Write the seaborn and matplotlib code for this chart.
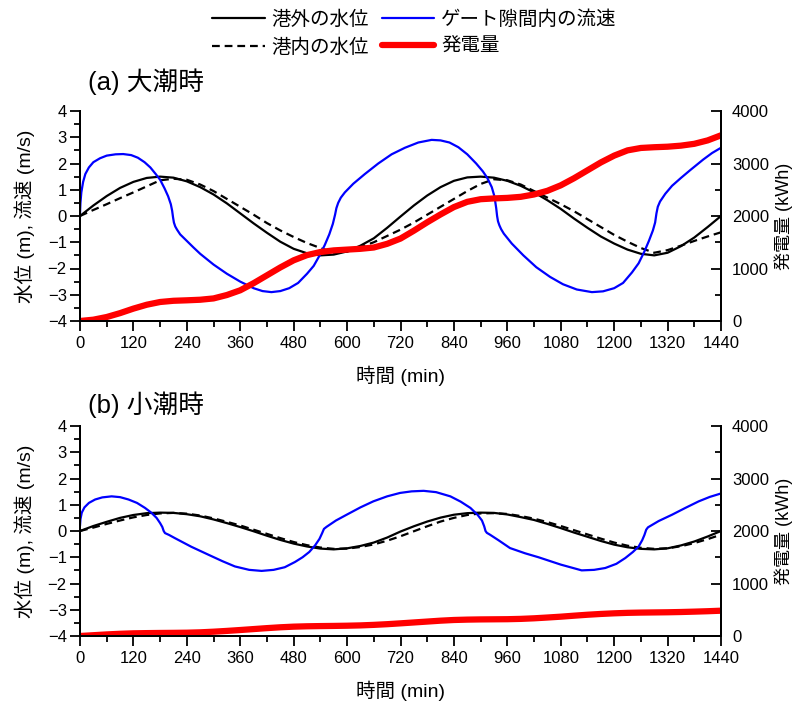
import numpy as np
import pandas as pd
import matplotlib
matplotlib.use("Agg")
import matplotlib.pyplot as plt
import seaborn as sns
from matplotlib.ticker import MultipleLocator

# ---- data ----
t_level = list(range(0, 1441, 30))

# (a) spring tide
out_a = [0, 0.40, 0.76, 1.07, 1.30, 1.45, 1.50, 1.46, 1.32, 1.10, 0.82, 0.48, 0.10,
         -0.28, -0.64, -0.98, -1.25, -1.42, -1.50, -1.47, -1.35, -1.13, -0.85, -0.45, -0.02,
         0.40, 0.78, 1.10, 1.34, 1.47, 1.50, 1.46, 1.34, 1.15, 0.90, 0.60, 0.27,
         -0.10, -0.45, -0.78, -1.05, -1.28, -1.44, -1.50, -1.40, -1.15, -0.82, -0.42, 0.0]
in_a = [0, 0.23, 0.45, 0.68, 0.90, 1.13, 1.36, 1.42, 1.38, 1.20, 0.95, 0.65, 0.35,
        0.05, -0.27, -0.55, -0.80, -1.03, -1.22, -1.40, -1.36, -1.18, -1.00, -0.76, -0.52,
        -0.25, 0.05, 0.35, 0.65, 0.95, 1.22, 1.40, 1.36, 1.20, 0.95, 0.70, 0.45,
        0.18, -0.12, -0.42, -0.72, -0.98, -1.22, -1.40, -1.30, -1.13, -0.95, -0.78, -0.62]

t_flow_a = [0, 1, 3, 7, 12, 20, 30, 45, 60, 80, 97, 115, 130, 145, 158, 170, 180, 190,
            198, 204, 207, 209, 211, 214, 218, 225, 240, 255, 270, 300, 330, 360, 390,
            410, 430, 450, 470, 490, 510, 525, 540, 550, 560, 568, 573, 576, 580, 586,
            595, 614, 640, 670, 700, 730, 760, 790, 810, 830, 850, 870, 890, 905, 915,
            925, 931, 935, 937, 939, 942, 946, 952, 970, 996, 1025, 1056, 1085, 1116,
            1150, 1175, 1200, 1220, 1240, 1255, 1268, 1278, 1287, 1292, 1295, 1298,
            1303, 1315, 1330, 1350, 1371, 1400, 1420, 1440]
flow_a = [0.1, 0.5, 0.9, 1.3, 1.6, 1.85, 2.05, 2.2, 2.3, 2.35, 2.36, 2.32, 2.22, 2.05,
          1.85, 1.6, 1.38, 1.05, 0.75, 0.45, 0.2, -0.05, -0.25, -0.4, -0.52, -0.7, -0.95,
          -1.2, -1.44, -1.85, -2.2, -2.5, -2.75, -2.86, -2.9, -2.86, -2.75, -2.55, -2.2,
          -1.9, -1.45, -1.1, -0.7, -0.3, 0.05, 0.3, 0.5, 0.7, 0.9, 1.23, 1.6, 2.0, 2.35,
          2.6, 2.8, 2.9, 2.88, 2.8, 2.62, 2.35, 2.0, 1.7, 1.45, 1.1, 0.75, 0.3, 0.0,
          -0.2, -0.35, -0.5, -0.67, -1.05, -1.5, -1.95, -2.32, -2.6, -2.8, -2.9, -2.87,
          -2.75, -2.55, -2.15, -1.8, -1.35, -0.95, -0.55, -0.25, 0.1, 0.35, 0.55, 0.85,
          1.15, 1.45, 1.75, 2.15, 2.4, 2.6]

t_power = list(range(0, 1441, 30))
power_a = [0, 25, 76, 150, 236, 310, 362, 385, 394, 405, 430, 495, 585, 720, 870,
           1020, 1156, 1255, 1314, 1345, 1360, 1375, 1400, 1470, 1570, 1720, 1880, 2030,
           2170, 2270, 2320, 2335, 2345, 2365, 2410, 2480, 2584, 2720, 2870, 3020, 3150,
           3250, 3296, 3310, 3320, 3340, 3375, 3440, 3537]

# (b) neap tide
out_b = [0, 0.19, 0.35, 0.50, 0.61, 0.68, 0.70, 0.69, 0.64, 0.56, 0.44, 0.30, 0.15,
         -0.01, -0.18, -0.34, -0.48, -0.59, -0.67, -0.70, -0.66, -0.57, -0.44, -0.25, -0.02,
         0.18, 0.36, 0.51, 0.62, 0.68, 0.70, 0.69, 0.63, 0.53, 0.42, 0.27, 0.11,
         -0.06, -0.22, -0.38, -0.52, -0.62, -0.68, -0.70, -0.66, -0.55, -0.40, -0.21, 0.0]
in_b = [0, 0.13, 0.27, 0.40, 0.52, 0.61, 0.67, 0.69, 0.66, 0.59, 0.48, 0.35, 0.21,
        0.05, -0.11, -0.27, -0.42, -0.54, -0.63, -0.68, -0.67, -0.61, -0.51, -0.37, -0.20,
        -0.01, 0.18, 0.36, 0.50, 0.61, 0.67, 0.68, 0.65, 0.57, 0.47, 0.34, 0.19,
        0.03, -0.13, -0.29, -0.44, -0.56, -0.64, -0.68, -0.66, -0.58, -0.46, -0.31, -0.14]

t_flow_b = [0, 1, 4, 10, 20, 34, 50, 71, 90, 109, 128, 146, 160, 172, 180, 185, 188,
            191, 200, 213, 250, 288, 320, 348, 380, 408, 435, 460, 483, 500, 515, 528,
            538, 544, 548, 554, 575, 599, 630, 659, 690, 719, 745, 772, 800, 832, 855,
            877, 893, 903, 908, 911, 914, 921, 940, 966, 1000, 1030, 1080, 1127, 1155,
            1180, 1205, 1225, 1242, 1255, 1263, 1268, 1272, 1276, 1300, 1330, 1360, 1390,
            1415, 1440]
flow_b = [0.2, 0.45, 0.7, 0.9, 1.07, 1.2, 1.28, 1.32, 1.29, 1.2, 1.07, 0.88, 0.7, 0.5,
          0.3, 0.15, 0.0, -0.08, -0.15, -0.27, -0.6, -0.9, -1.15, -1.35, -1.48, -1.52,
          -1.48, -1.38, -1.18, -1.0, -0.8, -0.55, -0.3, -0.08, 0.08, 0.16, 0.4, 0.62, 0.9,
          1.13, 1.32, 1.45, 1.51, 1.53, 1.48, 1.32, 1.12, 0.88, 0.62, 0.4, 0.18, 0.0,
          -0.07, -0.14, -0.35, -0.65, -0.85, -1.0, -1.28, -1.5, -1.48, -1.41, -1.25,
          -1.03, -0.8, -0.59, -0.35, -0.15, 0.05, 0.14, 0.38, 0.62, 0.88, 1.13, 1.3, 1.43]

power_b = [0, 15, 30, 42, 51, 55, 58, 60, 63, 70, 82, 97, 114, 132, 150, 166, 178, 185,
           189, 192, 196, 202, 212, 225, 241, 258, 275, 292, 305, 312, 316, 318, 320, 326,
           337, 352, 368, 387, 405, 420, 432, 441, 446, 449, 452, 457, 464, 472, 482]

labels = ["港外の水位", "港内の水位", "ゲート隙間内の流速", "発電量"]

# ---- style ----
sns.set_theme(style="ticks")
plt.rcParams["font.family"] = ["Liberation Sans", "Noto Sans CJK JP"]
plt.rcParams.update({
    "axes.edgecolor": "black", "axes.linewidth": 1.4,
    "xtick.color": "black", "ytick.color": "black",
    "text.color": "black", "axes.labelcolor": "black",
})

fig = plt.figure(figsize=(7.94, 7.04), dpi=100)
ax_a = fig.add_axes([80 / 794, 1 - 321 / 704, 641 / 794, 210 / 704])
ax_b = fig.add_axes([80 / 794, 1 - 636 / 704, 641 / 794, 210 / 704])


def draw_panel(ax, out_lv, in_lv, t_flow, flow, power):
    sns.lineplot(x=t_level, y=out_lv, ax=ax, color="black", linewidth=1.6)
    sns.lineplot(x=t_level, y=in_lv, ax=ax, color="black", linewidth=1.6,
                 linestyle=(0, (3.5, 2.2)))
    sns.lineplot(x=t_flow, y=flow, ax=ax, color="#0000ff", linewidth=1.6)
    ax.set_xlim(0, 1440)
    ax.set_ylim(-4, 4)
    ax.xaxis.set_major_locator(MultipleLocator(120))
    ax.xaxis.set_minor_locator(MultipleLocator(60))
    ax.yaxis.set_major_locator(MultipleLocator(1))
    ax.yaxis.set_minor_locator(MultipleLocator(0.5))
    ax.spines["top"].set_visible(False)
    ax.tick_params(which="both", direction="out", width=1.3, labelsize=12)
    ax.tick_params(axis="x", pad=3.5)
    ax.tick_params(axis="y", pad=2.5)
    ax.tick_params(which="major", length=7)
    ax.tick_params(which="minor", length=4.3)
    ax.set_xlabel("時間 (min)", fontsize=14)
    ax.xaxis.set_label_coords(0.5, -0.215)
    ax.set_ylabel("水位 (m), 流速 (m/s)", fontsize=14)
    ax.yaxis.set_label_coords(-0.07, 0.5)

    tw = ax.twinx()
    sns.lineplot(x=t_power, y=power, ax=tw, color="#ff0000", linewidth=4.5)
    tw.set_ylim(0, 4000)
    tw.yaxis.set_major_locator(MultipleLocator(1000))
    tw.yaxis.set_minor_locator(MultipleLocator(500))
    tw.spines["top"].set_visible(False)
    tw.tick_params(which="both", direction="in", width=1.3, labelsize=12, pad=8)
    tw.tick_params(which="major", length=7)
    tw.tick_params(which="minor", length=4.3)
    tw.set_ylabel("発電量 (kWh)", fontsize=13)
    tw.yaxis.set_label_coords(1.083, 0.5)
    return tw


tw_a = draw_panel(ax_a, out_a, in_a, t_flow_a, flow_a, power_a)
tw_b = draw_panel(ax_b, out_b, in_b, t_flow_b, flow_b, power_b)

fig.text(88 / 794, 1 - 82 / 704, "(a) 大潮時", fontsize=18.5, ha="left", va="center")
fig.text(88 / 794, 1 - 405 / 704, "(b) 小潮時", fontsize=18.5, ha="left", va="center")

lines = ax_a.get_lines()
handles = [lines[0], lines[1], lines[2], tw_a.get_lines()[0]]
fig.legend(handles, labels, loc="upper left", bbox_to_anchor=(212 / 794, 1 - 10 / 704),
           ncol=2, frameon=False, fontsize=14, handlelength=2.7, handletextpad=0.36,
           columnspacing=0.66, labelspacing=0.5, borderpad=0, borderaxespad=0)

fig.savefig("out.png", dpi=100)
